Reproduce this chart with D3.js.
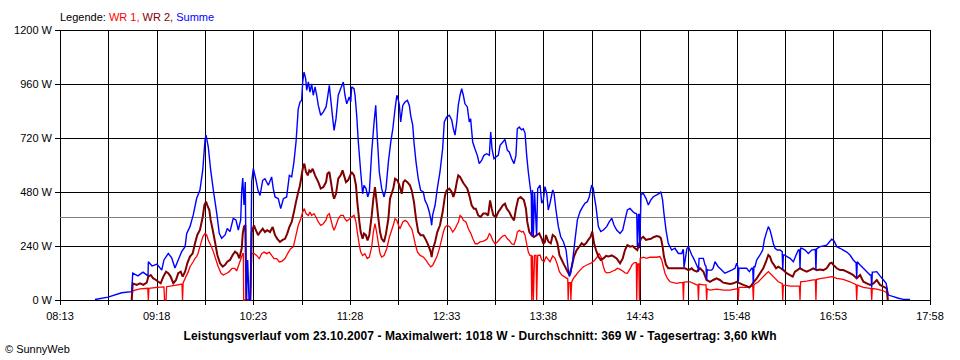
<!DOCTYPE html>
<html><head><meta charset="utf-8">
<script src="https://cdn.jsdelivr.net/npm/d3@7"></script>
<style>
body{margin:0;background:#fff;}
svg{display:block;font-family:"Liberation Sans",Arial,sans-serif;}
</style></head><body>
<svg id="c" width="960" height="360"></svg>
<script>
// ---- data (time = minutes after midnight, power in W) ----
const timeLabels = ["08:13","09:18","10:23","11:28","12:33","13:38","14:43","15:48","16:53","17:58"];
const yTickValues = [0, 240, 480, 720, 960, 1200];
const averageW = 369;
const legendParts = [["Legende: ", "#000000"], ["WR 1, ", "#ff0000"], ["WR 2, ", "#800000"], ["Summe", "#0000ff"]];
const titleText = "Leistungsverlauf vom 23.10.2007 - Maximalwert: 1018 W - Durchschnitt: 369 W - Tagesertrag: 3,60 kWh";
const copyrightText = "\u00A9 SunnyWeb";

// WR 1 (red)
const wr1T = [541.2,541.9,546.8,552.0,552.4,552.8,558.2,562.9,563.3,564.3,564.7,570.3,575.0,575.4,575.8,577.7,579.3,580.4,582.6,583.8,584.9,585.8,587.1,589.0,590.5,591.6,592.7,594.3,596.1,597.9,599.4,601.3,602.8,605.1,606.8,608.7,610.5,611.8,613.6,615.2,615.9,616.3,616.5,621.0,621.9,623.4,625.2,627.0,628.6,630.2,632.0,633.7,635.3,636.9,638.7,640.5,642.1,644.3,646.6,648.1,649.9,651.7,653.2,654.9,656.2,657.3,658.4,660.0,661.1,662.2,663.8,665.1,666.7,668.3,670.1,671.9,672.8,674.1,675.0,676.4,677.3,678.6,680.1,681.7,683.5,684.6,685.8,687.5,689.1,690.7,692.0,692.9,694.3,695.2,696.5,698.0,699.6,701.0,702.6,703.7,704.8,705.9,707.1,708.2,709.3,710.9,712.7,714.5,717.1,718.3,719.5,720.6,721.6,723.5,725.0,726.6,727.9,729.5,730.6,731.8,733.4,735.2,737.3,739.2,740.7,742.3,743.6,745.2,746.7,748.1,749.7,750.8,751.9,753.5,755.3,757.1,758.7,759.8,760.9,762.0,763.1,764.2,766.0,767.6,769.3,770.6,772.2,773.7,775.4,777.3,778.8,780.3,781.7,782.6,784.0,785.5,787.1,788.9,790.7,792.2,793.8,795.1,796.7,798.3,799.6,800.5,801.8,803.4,804.5,805.7,806.8,807.9,809.0,809.8,810.2,810.7,811.3,812.1,813.1,813.5,814.2,815.8,816.9,818.5,819.9,821.4,822.5,824.3,825.9,827.5,828.8,830.4,832.0,833.8,834.4,834.7,835.2,836.2,836.5,837.1,838.2,840.0,841.5,842.7,844.9,846.0,848.2,849.8,851.6,852.7,854.3,855.4,856.8,858.4,859.5,860.6,862.9,865.1,866.3,867.8,869.6,871.4,872.9,874.5,876.3,877.6,879.2,880.5,880.8,881.3,882.2,882.6,883.1,885.3,887.5,889.7,892.0,894.2,896.4,897.6,898.7,899.8,901.4,903.2,905.4,907.7,909.9,911.8,912.2,912.6,914.5,916.7,918.9,921.2,921.9,922.3,922.7,925.6,927.4,927.8,928.2,930.1,934.5,939.0,943.5,946.9,948.7,949.1,949.5,952.5,955.9,958.1,958.8,959.2,959.6,960.3,962.6,964.8,967.0,969.3,971.6,973.8,976.0,978.3,978.6,979.0,979.4,983.9,988.4,990.2,990.6,991.0,995.1,999.5,1000.9,1001.3,1001.7,1004.0,1008.5,1011.9,1015.3,1019.7,1024.2,1028.3,1028.7,1029.1,1033.2,1037.7,1038.4,1038.8,1039.2,1042.2,1046.7,1049.4,1049.6];
const wr1W = [0,41,49,52,0,52,56,58,0,0,59,65,71,0,76,104,126,148,170,185,193,207,237,281,296,289,267,244,215,178,148,119,111,119,126,141,141,129,163,193,206,206,0,0,206,207,198,184,206,213,206,213,198,184,184,169,172,184,213,228,236,288,332,361,391,406,384,376,391,376,384,369,347,332,339,356,376,384,361,324,310,332,361,376,376,360,351,359,369,376,347,302,243,213,198,206,184,191,236,302,339,302,250,206,191,198,228,280,332,361,354,332,317,347,354,347,332,317,288,250,213,198,191,176,161,147,154,176,198,228,272,302,324,332,324,302,317,332,347,376,369,354,347,317,295,272,250,250,258,261,265,272,295,288,265,250,258,272,284,288,272,265,250,246,272,302,310,302,305,288,250,213,198,198,0,198,0,198,198,0,198,200,178,170,193,178,170,196,185,156,126,111,104,96,96,0,77,77,0,80,96,111,124,133,148,151,159,163,171,178,193,207,191,148,126,121,123,130,133,141,136,129,121,119,138,156,166,166,0,160,160,0,185,190,185,190,190,190,193,178,148,119,96,81,77,74,77,77,0,80,81,81,74,67,67,0,71,67,67,0,49,44,48,44,44,48,50,0,56,56,56,62,64,0,67,71,81,96,111,126,111,96,81,74,74,0,67,62,62,62,0,81,84,89,90,0,91,95,99,104,96,92,81,68,0,66,56,52,52,0,51,48,41,30,0];

// WR 2 (dark red)
const wr2T = [541.2,541.9,544.6,546.8,549.0,551.3,552.4,554.0,555.7,557.6,559.1,560.7,562.5,564.3,565.8,567.4,569.2,571.0,572.5,574.2,575.5,577.1,578.6,580.4,582.2,583.8,585.3,587.1,589.0,590.1,591.2,592.0,593.4,594.3,595.7,597.2,598.8,600.6,602.4,604.0,605.5,607.3,609.1,610.7,612.2,613.6,615.2,615.9,616.7,617.6,618.3,621.0,621.9,623.4,624.7,626.2,627.5,629.3,630.8,632.3,634.2,636.0,637.6,639.1,640.9,642.7,644.3,645.8,647.2,648.8,650.3,651.7,653.2,654.4,656.2,657.3,658.4,659.6,660.6,661.6,662.9,664.5,666.7,668.3,670.1,671.9,672.8,674.1,675.0,676.4,677.3,678.6,680.1,681.7,683.0,685.3,686.8,689.1,690.7,692.0,692.9,694.3,695.2,696.5,697.4,698.7,699.8,701.0,702.6,703.7,704.8,705.9,707.1,708.2,709.3,710.9,712.2,713.8,714.9,717.1,718.3,719.9,721.2,722.8,723.9,725.0,726.6,728.3,729.5,731.0,732.4,733.9,735.5,737.3,739.2,740.7,742.3,742.9,743.6,745.2,746.7,748.5,750.3,751.9,753.0,754.8,756.4,757.5,758.6,759.8,760.8,762.0,764.2,765.3,766.9,768.2,769.8,771.3,772.6,774.2,775.8,777.6,779.4,780.9,782.2,783.3,784.4,786.2,787.7,789.3,790.8,792.2,793.4,795.1,796.7,798.3,799.6,801.1,802.7,804.0,804.9,806.3,807.2,808.6,810.1,811.7,813.5,815.3,816.9,818.0,819.1,819.8,821.4,823.0,824.3,825.9,827.5,828.8,830.4,832.0,833.8,835.5,837.1,838.6,840.4,842.2,843.8,845.3,846.7,848.2,849.8,850.9,852.1,853.4,855.0,856.6,858.4,860.2,861.7,864.0,865.5,867.3,869.6,871.4,872.9,874.5,876.3,878.1,879.6,881.2,882.5,883.7,885.2,887.0,888.6,890.4,892.0,894.2,896.0,897.1,898.2,899.1,900.5,902.0,904.3,906.5,908.8,911.1,913.3,915.6,917.8,918.9,921.2,923.3,925.6,927.8,930.1,932.2,934.5,936.7,939.0,941.2,943.5,945.8,948.0,950.2,952.5,954.7,956.5,958.1,959.6,961.5,963.7,965.9,967.7,969.3,970.4,971.6,973.1,974.5,976.0,977.6,979.4,981.6,983.9,985.7,987.2,988.8,990.6,992.8,995.1,997.3,999.5,1001.8,1004.0,1006.3,1008.5,1010.7,1011.9,1013.0,1015.3,1017.5,1019.7,1022.0,1024.2,1026.4,1028.7,1031.0,1033.2,1035.5,1037.7,1040.0,1042.2,1044.4,1046.7,1048.9,1049.6];
const wr2W = [0,74,67,74,67,77,104,111,96,89,81,74,104,126,119,104,74,89,119,126,104,126,163,193,207,252,289,311,370,422,437,422,400,356,311,259,200,163,148,156,170,178,200,215,207,185,230,296,326,333,0,0,302,332,311,288,302,317,302,310,302,324,288,272,258,267,272,295,324,347,391,436,480,510,583,606,569,554,576,569,583,554,524,495,502,524,561,569,533,472,450,472,539,554,576,524,533,569,554,510,436,347,302,272,295,288,265,289,376,450,502,436,361,302,272,258,295,361,450,495,539,532,510,472,524,532,524,510,487,436,361,302,288,288,265,243,213,191,222,258,302,332,391,465,487,495,480,458,480,524,554,547,520,510,495,465,421,406,406,376,369,384,384,376,443,406,376,369,391,406,421,428,406,391,369,354,406,450,458,450,444,406,347,302,288,280,288,296,272,250,259,289,259,252,289,281,252,200,178,156,133,111,148,193,222,237,252,244,252,267,281,304,252,222,193,178,185,196,193,198,193,185,163,185,222,244,237,240,230,222,252,274,281,267,270,272,279,284,281,274,237,193,156,141,141,141,141,141,141,133,141,133,126,141,126,89,81,89,96,89,77,74,71,74,81,74,67,62,56,67,81,96,119,141,170,200,193,170,156,141,148,141,133,119,111,104,126,133,141,133,126,133,141,133,136,133,141,163,166,156,141,133,133,126,119,111,96,111,81,74,67,74,89,67,59,52,0];

// Summe (blue)
const sumT = [516.5,525.3,534.5,541.2,541.9,545.4,548.8,552.2,552.4,554.9,558.2,561.4,562.9,565.8,568.1,570.3,572.5,574.8,577.1,578.2,580.4,582.6,584.9,587.1,589.0,590.5,591.2,592.7,594.3,596.1,598.4,600.1,601.7,604.0,605.5,607.3,609.5,611.3,612.9,614.5,615.2,615.9,616.7,617.6,618.3,619.2,620.1,621.0,621.9,623.0,624.8,626.1,627.5,629.3,630.8,633.1,635.3,636.4,637.6,639.8,641.4,643.2,645.4,647.2,648.8,650.3,651.7,653.2,654.4,655.5,656.2,657.1,658.2,658.9,660.0,661.1,662.2,663.3,664.5,665.6,666.7,668.3,670.1,671.9,672.8,674.1,675.0,676.4,677.3,678.6,680.1,681.7,683.5,684.6,685.8,687.5,688.5,689.1,690.7,691.4,692.5,693.6,695.2,696.5,697.4,698.8,699.9,701.0,702.6,704.2,705.3,706.4,707.7,709.3,710.9,712.2,713.8,715.4,716.8,718.3,719.5,720.5,721.2,722.1,723.5,725.0,726.6,727.9,728.8,730.2,731.0,732.4,733.9,735.5,737.3,738.4,740.0,741.3,742.3,742.9,743.6,745.2,746.7,748.5,750.3,751.4,753.0,754.8,756.4,757.5,758.6,759.8,760.8,762.0,763.1,764.2,765.3,766.9,768.2,769.1,770.5,772.0,773.6,774.9,776.6,778.1,779.9,781.7,782.6,783.5,784.8,786.2,787.7,788.9,790.8,792.2,793.8,795.1,796.7,798.3,799.6,800.5,801.8,803.4,804.5,805.7,806.8,807.9,809.0,809.9,810.2,810.7,811.3,812.1,813.5,814.2,815.8,816.9,818.0,819.1,820.3,821.3,822.5,824.3,825.2,826.5,828.1,829.7,831.5,833.3,834.8,835.5,836.4,837.8,839.3,840.9,842.7,844.5,846.0,847.6,848.9,849.8,850.5,851.6,852.3,853.4,855.0,856.6,858.4,860.6,862.4,864.0,865.5,867.3,869.6,871.4,872.9,874.5,876.3,878.1,879.6,880.4,880.8,881.2,882.0,882.4,882.8,883.7,885.2,887.0,888.6,890.2,892.0,894.2,896.0,897.1,898.2,899.1,900.5,902.0,904.3,906.5,908.8,911.1,911.8,912.2,912.6,914.5,915.6,917.8,918.9,920.1,921.6,921.9,922.3,922.7,923.3,925.6,926.7,927.4,927.8,928.2,928.9,931.2,932.2,933.4,935.6,937.9,940.1,942.4,944.6,946.9,948.0,948.7,949.1,949.5,950.2,952.5,954.7,956.5,958.1,958.8,959.2,959.6,960.3,961.5,963.7,965.5,966.6,968.2,969.3,970.4,971.6,972.6,973.8,975.3,977.2,978.6,979.0,979.4,980.1,981.9,983.9,986.1,988.4,989.5,990.2,990.6,991.0,991.8,994.0,996.2,998.5,1000.9,1001.3,1001.7,1004.0,1006.3,1008.5,1010.3,1011.9,1013.5,1015.3,1017.5,1019.7,1022.0,1024.2,1026.4,1028.3,1028.7,1029.1,1031.0,1033.2,1035.5,1037.7,1038.4,1038.8,1039.2,1040.0,1042.2,1044.4,1046.7,1048.5,1050.0,1053.4,1056.8,1060.1,1064.6];
const sumW = [2,13,32,37,119,107,124,107,170,151,160,133,178,207,187,142,178,215,237,296,326,378,452,489,578,711,733,681,578,489,385,296,274,289,318,304,363,356,311,356,489,542,422,524,0,178,0,0,526,585,533,489,465,532,539,510,547,495,458,450,406,450,458,554,547,613,702,850,880,888,969,1013,984,932,969,924,961,910,947,910,865,821,836,858,895,954,895,806,754,806,910,939,969,910,872,902,880,947,939,910,821,702,569,472,510,495,458,480,658,791,865,717,569,495,458,495,613,702,761,850,910,889,865,791,865,880,887,865,821,776,702,613,539,487,480,443,421,391,361,332,378,421,495,569,672,791,813,821,800,761,733,791,865,910,939,910,872,858,791,806,702,672,643,606,622,643,650,643,747,672,628,636,643,687,702,714,665,658,628,606,643,761,769,756,761,742,643,569,510,465,284,489,284,480,284,495,510,430,444,504,474,400,430,489,474,400,326,281,259,222,133,104,119,178,267,356,393,415,430,437,459,489,511,496,459,415,326,304,311,326,348,363,333,311,296,311,356,400,407,393,385,385,380,240,380,380,230,470,474,452,422,444,459,467,474,481,444,385,311,252,222,230,207,207,222,222,145,227,237,200,187,170,148,150,126,185,185,185,156,150,89,135,133,133,141,170,148,133,119,126,133,141,163,150,81,141,141,141,141,126,141,141,70,148,148,178,200,222,267,304,326,311,281,252,230,222,222,215,133,200,200,193,185,170,207,222,222,141,230,230,222,207,222,225,133,227,237,240,244,258,270,262,237,230,222,213,200,178,165,100,170,156,141,126,111,111,55,124,124,126,107,89,74,22,15,8,3,3];

// ---- drawing ----
const svg = d3.select("#c");
const x = d3.scaleLinear().domain([493, 1078]).range([60, 930]);
const y = d3.scaleLinear().domain([0, 1200]).range([300, 30]);
const toMin = s => { const [h, m] = s.split(":").map(Number); return h * 60 + m; };
const gridTimes = d3.range(toMin(timeLabels[0]), toMin(timeLabels[timeLabels.length - 1]) + 1, 32.5);

const g = svg.append("g").attr("shape-rendering", "crispEdges");
g.selectAll(".hg").data(yTickValues).join("line")
  .attr("x1", 55).attr("x2", x.range()[1])
  .attr("y1", d => Math.round(y(d)) + 0.5).attr("y2", d => Math.round(y(d)) + 0.5)
  .attr("stroke", "#000").attr("stroke-width", 1);
g.selectAll(".vg").data(gridTimes).join("line")
  .attr("x1", d => Math.round(x(d)) + 0.5).attr("x2", d => Math.round(x(d)) + 0.5)
  .attr("y1", y.range()[1]).attr("y2", 305)
  .attr("stroke", "#000").attr("stroke-width", 1);
g.append("line")
  .attr("x1", x.range()[0]).attr("x2", x.range()[1])
  .attr("y1", Math.round(y(averageW)) + 0.5).attr("y2", Math.round(y(averageW)) + 0.5)
  .attr("stroke", "#808080").attr("stroke-width", 1);

const line = d3.line().x(d => x(d[0])).y(d => y(d[1]));
const pairs = (T, W) => T.map((t, i) => [t, W[i]]);
const lines = svg.append("g").attr("fill", "none").attr("stroke-linejoin", "miter").attr("stroke-miterlimit", 2);
lines.append("path").attr("d", line(pairs(wr1T, wr1W))).attr("stroke", "#ff0000").attr("stroke-width", 1.3);
lines.append("path").attr("d", line(pairs(wr2T, wr2W))).attr("stroke", "#800000").attr("stroke-width", 2);
lines.append("path").attr("d", line(pairs(sumT, sumW))).attr("stroke", "#0000ff").attr("stroke-width", 1.4);

svg.append("g").selectAll("text").data(yTickValues).join("text")
  .attr("x", 52).attr("y", d => y(d) + 4)
  .attr("text-anchor", "end").attr("font-size", 11).attr("fill", "#000")
  .text(d => d + " W");
svg.append("g").selectAll("text").data(timeLabels).join("text")
  .attr("x", d => x(toMin(d))).attr("y", 320)
  .attr("text-anchor", "middle").attr("font-size", 11).attr("fill", "#000")
  .text(d => d);
const leg = svg.append("text").attr("x", 60).attr("y", 21).attr("font-size", 11).style("white-space", "pre");
legendParts.forEach(([t, c]) => leg.append("tspan").attr("fill", c).text(t));
svg.append("text").attr("x", 480).attr("y", 340).attr("text-anchor", "middle")
  .attr("font-size", 12).attr("font-weight", "bold").attr("fill", "#000")
  .attr("textLength", 593).attr("lengthAdjust", "spacing").text(titleText);
svg.append("text").attr("x", 5).attr("y", 353).attr("font-size", 11).attr("fill", "#000").text(copyrightText);
</script>
</body></html>
